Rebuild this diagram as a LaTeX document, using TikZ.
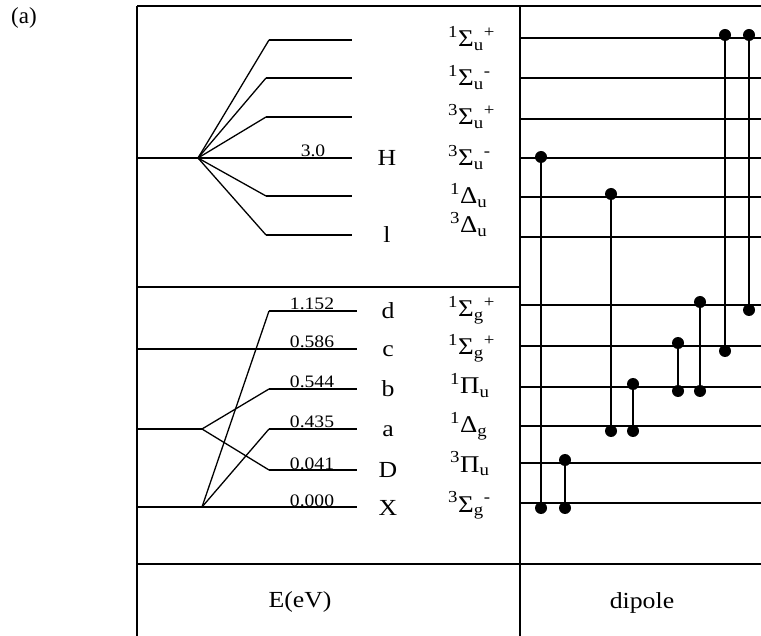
\documentclass[tikz,border=0pt]{standalone}
\usepackage{fontspec}
\setmainfont{Liberation Serif}
\newcommand\termsym[4]{\textsuperscript{#1}#2\textsubscript{#3}\textsuperscript{#4}}
\newcommand\hs[1]{\scalebox{1.12}[1]{#1}}
\tikzset{
  frame/.style={line width=2.1pt},
  level/.style={line width=1.6pt},
  fan/.style={line width=1.3pt},
  trans/.style={line width=1.4pt},
  dotnode/.style={circle,fill=black,inner sep=0pt,minimum size=12pt},
  numlbl/.style={anchor=base,inner sep=0pt,font=\fontsize{17.5}{20}\selectfont},
  letlbl/.style={anchor=base,inner sep=0pt,font=\fontsize{23}{26}\selectfont},
  termlbl/.style={anchor=base west,inner sep=0pt,font=\fontsize{24}{28}\selectfont},
  caption/.style={inner sep=0pt,font=\fontsize{23}{26}\selectfont}
}
\begin{document}
\begin{tikzpicture}[x=1pt,y=-1pt]
\useasboundingbox (0,0) rectangle (761,636);
% frame
\coordinate (TL) at (137,6); \coordinate (TR) at (761,6);
\coordinate (BL) at (137,636); \coordinate (DT) at (520,6); \coordinate (DB) at (520,636);
\coordinate (SL) at (137,287); \coordinate (SR) at (520,287);
\coordinate (HL) at (137,564); \coordinate (HR) at (761,564);
\draw[frame] (TL) -- (TR);
\draw[frame] (TL) -- (BL);
\draw[frame] (DT) -- (DB);
\draw[frame] (SL) -- (SR);
\draw[frame] (HL) -- (HR);
\node[caption] (lab) at (24,18) {(a)};
\node[caption] (eev) at (300,602) {\hs{E(eV)}};
\node[caption] (dip) at (642,603) {\hs{dipole}};
% upper left fan
\coordinate (S1) at (198,158);
\coordinate (H0) at (137,158); \coordinate (HE) at (352,158);
\draw[level] (H0) -- (HE);
\foreach \n/\y/\xs in {u1/40/269,u2/78/266,u3/117/266,u5/196/266,u6/235/266}{
  \coordinate (\n s) at (\xs,\y); \coordinate (\n e) at (352,\y);
  \draw[fan] (S1) -- (\n s);
  \draw[level] (\n s) -- (\n e);
}
\node[numlbl] (n30) at (313,157) {\hs{3.0}};
\node[letlbl] (lH) at (387,166) {\hs{H}};
\node[letlbl] (ll) at (387,243) {\hs{l}};
% lower left fan
\coordinate (S2) at (202,507); \coordinate (S3) at (202,429);
\coordinate (c0) at (137,349); \coordinate (ce) at (357,349);
\coordinate (X0) at (137,507); \coordinate (Xe) at (357,507);
\coordinate (L0) at (137,429);
\draw[level] (c0) -- (ce);
\draw[level] (X0) -- (Xe);
\draw[level] (L0) -- (S3);
\foreach \n/\y/\src in {ld/311/S2,la/429/S2,lb/389/S3,lD/470/S3}{
  \coordinate (\n s) at (269,\y); \coordinate (\n e) at (357,\y);
  \draw[fan] (\src) -- (\n s);
  \draw[level] (\n s) -- (\n e);
}
\foreach \n/\y/\t in {n1/311/1.152,n2/349/0.586,n3/389/0.544,n4/429/0.435,n5/470/0.041,n6/507/0.000}{
  \node[numlbl] (\n) at (312,\y-1) {\hs{\t}};
}
\foreach \n/\y/\t in {ld1/311/d,lc1/349/c,lb1/389/b,la1/429/a,lD1/470/D,lX1/507/X}{
  \node[letlbl] (\n) at (388,\y+8) {\hs{\t}};
}
% term symbols
\node[termlbl] (t1) at (448,47) {\hs{\termsym{1}{Σ}{u}{+}}};
\node[termlbl] (t2) at (448,86) {\hs{\termsym{1}{Σ}{u}{-}}};
\node[termlbl] (t3) at (448,125) {\hs{\termsym{3}{Σ}{u}{+}}};
\node[termlbl] (t4) at (448,166) {\hs{\termsym{3}{Σ}{u}{-}}};
\node[termlbl] (t5) at (450,204) {\hs{\termsym{1}{Δ}{u}{}}};
\node[termlbl] (t6) at (450,233) {\hs{\termsym{3}{Δ}{u}{}}};
\node[termlbl] (t7) at (448,317) {\hs{\termsym{1}{Σ}{g}{+}}};
\node[termlbl] (t8) at (448,355) {\hs{\termsym{1}{Σ}{g}{+}}};
\node[termlbl] (t9) at (450,394) {\hs{\termsym{1}{Π}{u}{}}};
\node[termlbl] (t10) at (450,433) {\hs{\termsym{1}{Δ}{g}{}}};
\node[termlbl] (t11) at (450,472) {\hs{\termsym{3}{Π}{u}{}}};
\node[termlbl] (t12) at (448,512) {\hs{\termsym{3}{Σ}{g}{-}}};
% right panel levels
\foreach \n/\y in {r1/38,r2/78,r3/119,r4/158,r5/197,r6/237,r7/305,r8/346,r9/387,r10/426,r11/463,r12/503}{
  \coordinate (\n a) at (520,\y); \coordinate (\n b) at (761,\y);
  \draw[level] (\n a) -- (\n b);
}
% transitions
\foreach \k/\x/\yt/\yb in {1/541/157/508,2/565/460/508,3/611/194/431,4/633/384/431,5/678/343/391,6/700/302/391,7/725/35/351,8/749/35/310}{
  \node[dotnode] (p\k t) at (\x,\yt) {};
  \node[dotnode] (p\k b) at (\x,\yb) {};
  \draw[trans] (p\k t.center) -- (p\k b.center);
}
\end{tikzpicture}
\end{document}
